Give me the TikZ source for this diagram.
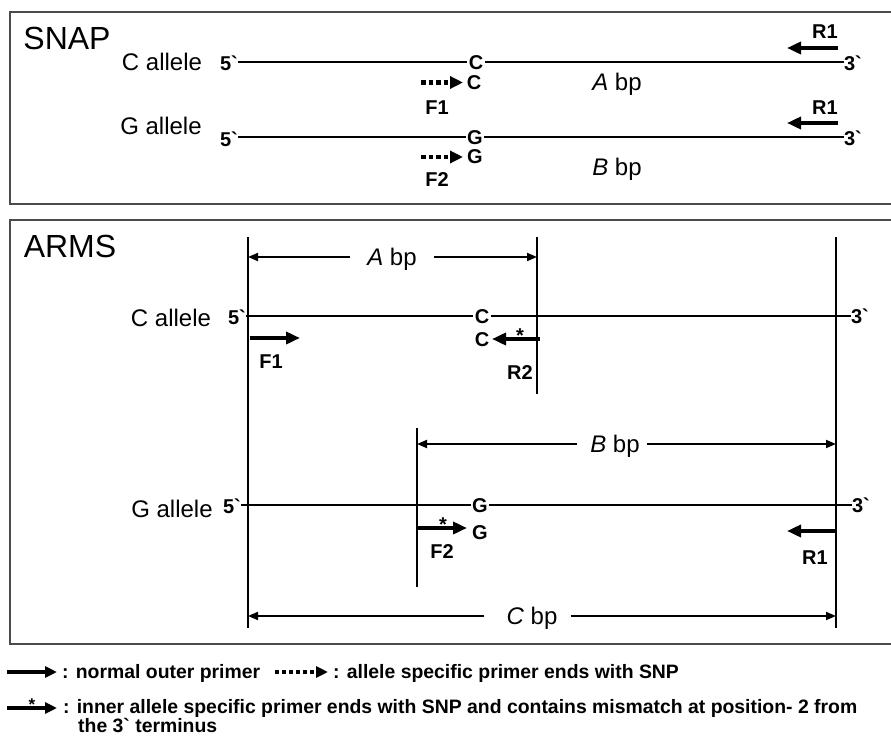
\documentclass[tikz,border=0pt]{standalone}
\usepackage{fontspec}
\newfontfamily\arial{Liberation Sans}
\usetikzlibrary{arrows.meta}
\begin{document}
\begin{tikzpicture}[x=1pt,y=-1pt,
  every node/.style={font=\arial, inner sep=0pt},
  title/.style={font=\arial\fontsize{32}{36}\selectfont},
  allele/.style={font=\arial\fontsize{24}{28}\selectfont},
  lab/.style={font=\arial\bfseries\fontsize{20}{24}\selectfont},
  bp/.style={font=\arial\fontsize{24}{28}\selectfont},
  star/.style={font=\arial\bfseries\fontsize{20}{24}\selectfont},
  leg/.style={font=\arial\bfseries\fontsize{19.4}{22}\selectfont, anchor=base west},
  dna/.style={line width=2.6pt},
  primer/.style={line width=4.5pt, -{Triangle[length=14pt,width=12pt]}},
  dotprimer/.style={line width=4.5pt, dash pattern=on 4.5pt off 3pt, -{Triangle[length=13pt,width=12pt]}},
  legprimer/.style={line width=4pt, -{Triangle[length=12pt,width=11pt]}},
  legdot/.style={line width=4pt, dash pattern=on 4pt off 3pt, -{Triangle[length=12pt,width=11pt]}},
  dim/.style={line width=1.8pt, -{Triangle[length=10pt,width=8pt]}},
  guide/.style={line width=1.1pt},
  frame/.style={line width=1.2pt, draw=black!70}
]
\useasboundingbox (0,0) rectangle (891,736);
% frames
\coordinate (s1) at (896,12); \coordinate (s2) at (10,12);
\coordinate (s3) at (10,204); \coordinate (s4) at (896,204);
\draw[frame] (s1) -- (s2) -- (s3) -- (s4);
\coordinate (a1) at (896,220); \coordinate (a2) at (10,220);
\coordinate (a3) at (10,644); \coordinate (a4) at (896,644);
\draw[frame] (a1) -- (a2) -- (a3) -- (a4);

% ---------------- SNAP ----------------
\node[title] (snap) at (67,38) {SNAP};
% C allele
\node[allele] (ca1) at (162,62) {C allele};
\node[lab] (f5a) at (229,63) {5\textasciigrave};
\node[lab] (cm1) at (476,62.5) {C};
\node[lab] (t3a) at (853,63) {3\textasciigrave};
\coordinate (ya) at (0,62);
\draw[dna, shorten >=1.5pt] (f5a.east |- ya) -- (cm1.west |- ya);
\draw[dna, shorten <=1.5pt] (cm1.east |- ya) -- (t3a.west |- ya);
\coordinate (r1as) at (838,48); \coordinate (r1at) at (787,48);
\draw[primer] (r1as) -- (r1at);
\node[lab] (r1a) at (825,32) {R1};
\coordinate (f1s) at (421,82.5); \coordinate (f1t) at (463,82.5);
\draw[dotprimer] (f1s) -- (f1t);
\node[lab] (cs1) at (474,83) {C};
\node[lab] (f1a) at (437,108) {F1};
\node[bp] (abp1) at (617,84) {\itshape A\upshape\ bp};
% G allele
\node[allele] (ga1) at (161,126) {G allele};
\node[lab] (f5b) at (229,139) {5\textasciigrave};
\node[lab] (gm1) at (475,138) {G};
\node[lab] (t3b) at (853,138) {3\textasciigrave};
\coordinate (yb) at (0,137);
\draw[dna, shorten >=1.5pt] (f5b.east |- yb) -- (gm1.west |- yb);
\draw[dna, shorten <=1.5pt] (gm1.east |- yb) -- (t3b.west |- yb);
\coordinate (r1bs) at (838,123); \coordinate (r1bt) at (787,123);
\draw[primer] (r1bs) -- (r1bt);
\node[lab] (r1b) at (825,108) {R1};
\coordinate (f2s) at (421,157); \coordinate (f2t) at (463,157);
\draw[dotprimer] (f2s) -- (f2t);
\node[lab] (gs1) at (475,157) {G};
\node[lab] (f2a) at (437,180) {F2};
\node[bp] (bbp1) at (617,169) {\itshape B\upshape\ bp};

% ---------------- ARMS ----------------
\node[title] (arms) at (70,246) {ARMS};
\coordinate (v1t) at (248,237); \coordinate (v1b) at (248,628);
\coordinate (v2t) at (537,237); \coordinate (v2b) at (537,394);
\coordinate (v3t) at (836,237); \coordinate (v3b) at (836,628);
\coordinate (v4t) at (417,428); \coordinate (v4b) at (417,587);
\draw[guide] (v1t) -- (v1b);
\draw[guide] (v2t) -- (v2b);
\draw[guide] (v3t) -- (v3b);
\draw[guide] (v4t) -- (v4b);
% A bp dimension
\coordinate (adim) at (392,257);
\node[bp] (abp2) at (392,259.6) {\itshape A\upshape\ bp};
\draw[dim, shorten <=17pt] (abp2.west |- adim) -- (v1t |- adim);
\draw[dim, shorten <=17pt] (abp2.east |- adim) -- (v2t |- adim);
% C allele
\node[allele] (ca2) at (171,318) {C allele};
\node[lab] (f5c) at (237,317) {5\textasciigrave};
\node[lab] (cm2) at (482,317) {C};
\node[lab] (t3c) at (860,316) {3\textasciigrave};
\coordinate (yc) at (0,316);
\draw[dna, shorten >=1.5pt] (f5c.east |- yc) -- (cm2.west |- yc);
\draw[dna, shorten <=1.5pt] (cm2.east |- yc) -- (t3c.west |- yc);
\coordinate (f1cs) at (250,338); \coordinate (f1ct) at (300,338);
\draw[primer] (f1cs) -- (f1ct);
\node[lab] (f1c) at (271,362) {F1};
\coordinate (r2s) at (540,339); \coordinate (r2t) at (492,339);
\draw[primer] (r2s) -- (r2t);
\node[star] (st1) at (520,336) {*};
\node[lab] (cs2) at (482,340) {C};
\node[lab] (r2c) at (520,373) {R2};
% B bp dimension
\coordinate (bdim) at (615,444);
\node[bp] (bbp2) at (615,446.6) {\itshape B\upshape\ bp};
\draw[dim, shorten <=13pt] (bbp2.west |- bdim) -- (v4t |- bdim);
\draw[dim, shorten <=7pt] (bbp2.east |- bdim) -- (v3t |- bdim);
% G allele
\node[allele] (ga2) at (172,509) {G allele};
\node[lab] (f5d) at (232,506) {5\textasciigrave};
\node[lab] (gm2) at (480,506) {G};
\node[lab] (t3d) at (861,505) {3\textasciigrave};
\coordinate (yd) at (0,505);
\draw[dna, shorten >=1.5pt] (f5d.east |- yd) -- (gm2.west |- yd);
\draw[dna, shorten <=1.5pt] (gm2.east |- yd) -- (t3d.west |- yd);
\coordinate (f2ds) at (418,528); \coordinate (f2dt) at (467,528);
\draw[primer] (f2ds) -- (f2dt);
\node[star] (st2) at (443,524.5) {*};
\node[lab] (gs2) at (480,533) {G};
\node[lab] (f2d) at (442,552) {F2};
\coordinate (r1ds) at (837,531); \coordinate (r1dt) at (787,531);
\draw[primer] (r1ds) -- (r1dt);
\node[lab] (r1d) at (815,558) {R1};
% C bp dimension
\coordinate (cdim) at (532,616);
\node[bp] (cbp) at (532,618.6) {\itshape C\upshape\ bp};
\draw[dim, shorten <=22pt] (cbp.west |- cdim) -- (v1t |- cdim);
\draw[dim, shorten <=13pt] (cbp.east |- cdim) -- (v3t |- cdim);

% ---------------- legend ----------------
\coordinate (l1s) at (7,672); \coordinate (l1t) at (57,672);
\draw[legprimer] (l1s) -- (l1t);
\node[leg] (leg1) at (62,678) {: normal outer primer};
\coordinate (l2s) at (275,672); \coordinate (l2t) at (328,672);
\draw[legdot] (l2s) -- (l2t);
\node[leg] (leg2) at (333,678) {: allele specific primer ends with SNP};
\coordinate (l3s) at (7,708); \coordinate (l3t) at (57,708);
\draw[legprimer] (l3s) -- (l3t);
\node[star, font=\arial\bfseries\fontsize{17}{20}\selectfont] (st3) at (32,705) {*};
\node[leg] (leg3) at (63,713) {: inner allele specific primer ends with SNP and contains mismatch at position- 2 from};
\node[leg] (leg4) at (78,732) {the 3\textasciigrave{} terminus};
\end{tikzpicture}
\end{document}
